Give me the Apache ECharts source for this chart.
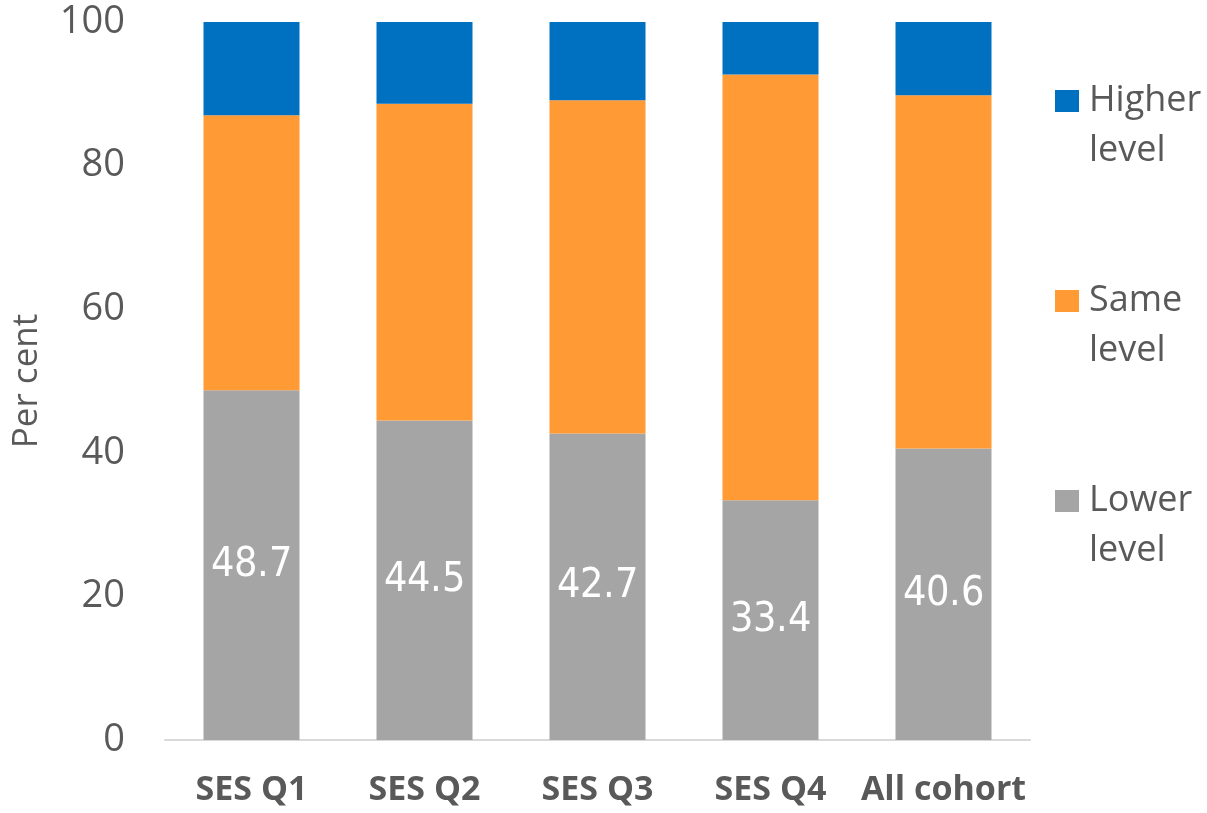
<!DOCTYPE html>
<html>
<head>
<meta charset="utf-8">
<script src="https://cdn.jsdelivr.net/npm/echarts@6/dist/echarts.min.js"></script>
<style>
    html, body { margin: 0; padding: 0; background: #fff; }
    #chart { width: 1207px; height: 813px; }
    @font-face {
        font-family: 'NarrowLabel';
        src: local('Liberation Sans Narrow'), local('LiberationSansNarrow-Regular'),
             local('DejaVu Sans Condensed'), local('DejaVuSansCondensed');
    }
</style>
</head>
<body>
<div id="chart"></div>
<script>
// 数据
const categories = ['SES Q1', 'SES Q2', 'SES Q3', 'SES Q4', 'All cohort'];
const lowerLevel = [48.7, 44.5, 42.7, 33.4, 40.6];
const sameLevel = [38.3, 44.1, 46.4, 59.3, 49.2];
const higherLevel = [13.0, 11.4, 10.9, 7.3, 10.2];
const yTicks = [0, 20, 40, 60, 80, 100];

const textColor = '#595959';
const baseFont = '"Open Sans", sans-serif';

function chartInt() {
    var myChart = echarts.init(document.getElementById('chart'));

    const options = {
        animation: false,
        grid: {
            left: 165,
            right: 177,
            top: 22,
            bottom: 73,
            outerBoundsMode: 'none',
            containLabel: false
        },
        legend: {
            orient: 'vertical',
            left: 1050,
            top: 21,
            itemGap: 50,
            itemWidth: 24,
            itemHeight: 22,
            icon: 'rect',
            data: ['Higher level', 'Same level', 'Lower level'],
            // 首行留空，让标记与第一行文字对齐
            formatter: function (name) {
                return '\n' + name.replace(' ', '\n');
            },
            textStyle: {
                color: textColor,
                fontSize: 36,
                fontFamily: baseFont,
                lineHeight: 50,
                padding: [0, 0, 0, 5]
            }
        },
        xAxis: {
            type: 'category',
            data: categories,
            axisLine: {
                show: true,
                lineStyle: { color: '#D9D9D9', width: 2 }
            },
            axisTick: { show: false },
            axisLabel: {
                interval: 0,
                color: textColor,
                fontSize: 34,
                fontWeight: 'bold',
                fontFamily: baseFont,
                margin: 33
            }
        },
        yAxis: {
            type: 'value',
            min: yTicks[0],
            max: yTicks[yTicks.length - 1],
            interval: 20,
            name: 'Per cent',
            nameLocation: 'middle',
            nameGap: 120,
            nameTextStyle: {
                color: textColor,
                fontSize: 35,
                fontFamily: baseFont
            },
            splitLine: { show: false },
            axisLine: { show: false },
            axisTick: { show: false },
            axisLabel: {
                color: textColor,
                fontSize: 38,
                fontFamily: baseFont,
                margin: 40
            }
        },
        series: [
            {
                name: 'Lower level',
                type: 'bar',
                stack: 'total',
                barWidth: 96,
                data: lowerLevel,
                itemStyle: { color: '#A5A5A5' },
                label: {
                    show: true,
                    position: 'inside',
                    color: '#FFFFFF',
                    fontSize: 41,
                    fontFamily: 'NarrowLabel, Roboto, sans-serif'
                }
            },
            {
                name: 'Same level',
                type: 'bar',
                stack: 'total',
                barWidth: 96,
                data: sameLevel,
                itemStyle: { color: '#FF9A35' }
            },
            {
                name: 'Higher level',
                type: 'bar',
                stack: 'total',
                barWidth: 96,
                data: higherLevel,
                itemStyle: { color: '#0070C0' }
            }
        ]
    };

    // 绘制图表
    myChart.setOption(options);
}

document.fonts.load('41px NarrowLabel').then(chartInt, chartInt);
</script>
</body>
</html>
